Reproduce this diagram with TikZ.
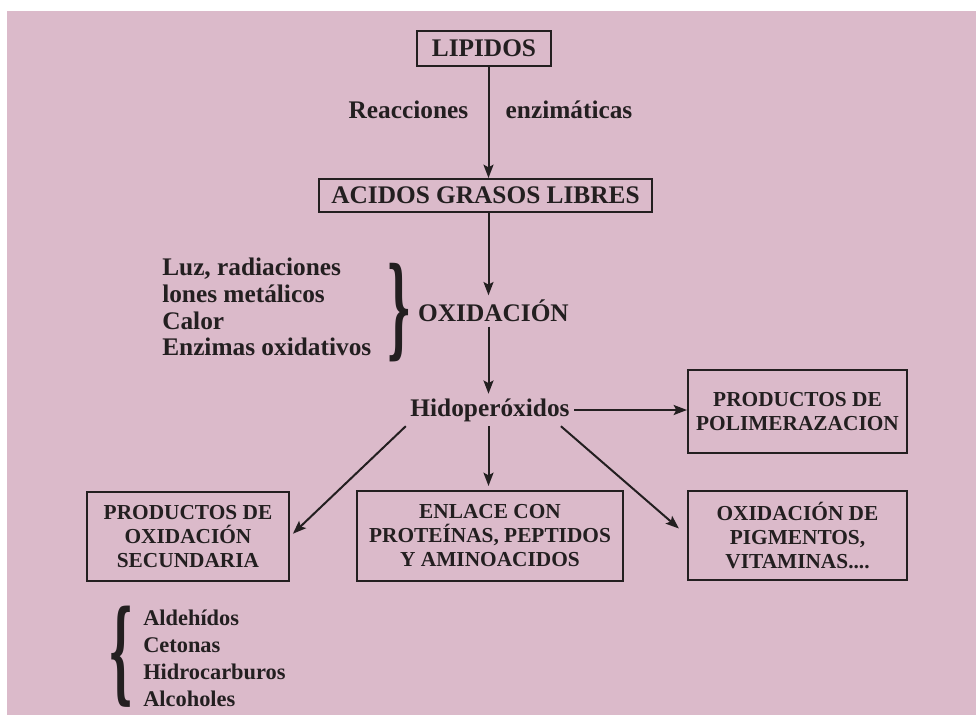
\documentclass[tikz,border=0pt]{standalone}
\usepackage{fontspec}
\usepackage{graphicx}
\setmainfont{Liberation Serif}
\newfontfamily\llavefont{DejaVu Serif}
\usetikzlibrary{arrows.meta}
\definecolor{fondo}{RGB}{219,186,202}
\definecolor{tinta}{RGB}{35,31,32}
\newcommand{\textofont}{\fontsize{19}{20}\selectfont\bfseries}
\newcommand{\cajafont}{\fontsize{16}{18}\selectfont\bfseries}
\newcommand{\listafont}{\fontsize{16.8}{20.25}\selectfont\bfseries}
\tikzset{
  caja/.style={draw=tinta,line width=1.5pt,align=center,text=tinta,inner sep=0pt},
  texto/.style={text=tinta,font=\textofont},
  llave/.style={text=tinta,inner sep=0pt,font=\llavefont\bfseries},
  flecha/.style={draw=tinta,line width=1.5pt,-{Stealth[length=10pt,width=7.5pt,inset=2pt]}}
}
\begin{document}
\begin{tikzpicture}[x=0.75pt,y=-0.75pt]
\useasboundingbox (0,0) rectangle (976,715);
\fill[white] (0,0) rectangle (976,715);
\fill[fondo] (7,11) rectangle (976,715);
\coordinate (eje) at (488.5,0);
% cajas
\node[caja,font=\textofont,minimum width=100.5pt,minimum height=26.25pt] (lipidos) at (484,48.5) {LIPIDOS};
\node[caja,font=\textofont,minimum width=249.75pt,minimum height=24.75pt] (acidos) at (485.5,195.5) {ACIDOS GRASOS LIBRES};
\node[caja,font=\cajafont,minimum width=164.25pt,minimum height=62.25pt] (polimer) at (797.5,411.5) {PRODUCTOS DE\\POLIMERAZACION};
\node[caja,font=\cajafont,minimum width=151.5pt,minimum height=66.75pt] (secund) at (188,536.5) {PRODUCTOS DE\\OXIDACIÓN\\SECUNDARIA};
\node[caja,font=\cajafont,minimum width=199.5pt,minimum height=67.5pt] (enlace) at (490,536) {ENLACE CON\\PROTEÍNAS, PEPTIDOS\\Y AMINOACIDOS};
\node[caja,font=\cajafont,minimum width=164.25pt,minimum height=66.75pt] (pigment) at (797.5,535.5) {OXIDACIÓN DE\\PIGMENTOS,\\VITAMINAS....};
% textos
\node[texto,anchor=east] (reacc) at (473,110) {Reacciones};
\node[texto,anchor=west] (enzim) at (501,110) {enzimáticas};
\node[texto] (oxid) at (493.5,311) {OXIDACIÓN};
\node[texto] (hidro) at (490,410) {Hidoperóxidos};
\node[texto,align=left,anchor=west,inner sep=0pt] (agentes) at (162,307) {Luz, radiaciones\\lones metálicos\\Calor\\Enzimas oxidativos};
\node[llave] (llaveuno) at (399.5,312.5) {\resizebox*{19pt}{74pt}{\}}};
\node[llave] (llavedos) at (121.5,657) {\resizebox*{19pt}{76pt}{\{}};
\node[text=tinta,font=\listafont,align=left,anchor=west,inner sep=0pt] (compuestos) at (143,658) {Aldehídos\\Cetonas\\Hidrocarburos\\Alcoholes};
% flechas
\draw[flecha] (lipidos.south -| eje) -- (acidos.north -| eje);
\draw[flecha] (acidos.south -| eje) -- (oxid.north -| eje);
\draw[flecha] (oxid.south -| eje) -- (hidro.north -| eje);
\draw[flecha] (hidro.east) -- (hidro.east -| polimer.west);
\draw[flecha] (hidro.south -| eje) -- ([yshift=3pt]enlace.north -| eje);
\draw[flecha,shorten >=3pt] (hidro.south west) -- (secund.east);
\draw[flecha,shorten >=8pt] ([xshift=-10pt]hidro.south east) -- (pigment.west);
\end{tikzpicture}
\end{document}
